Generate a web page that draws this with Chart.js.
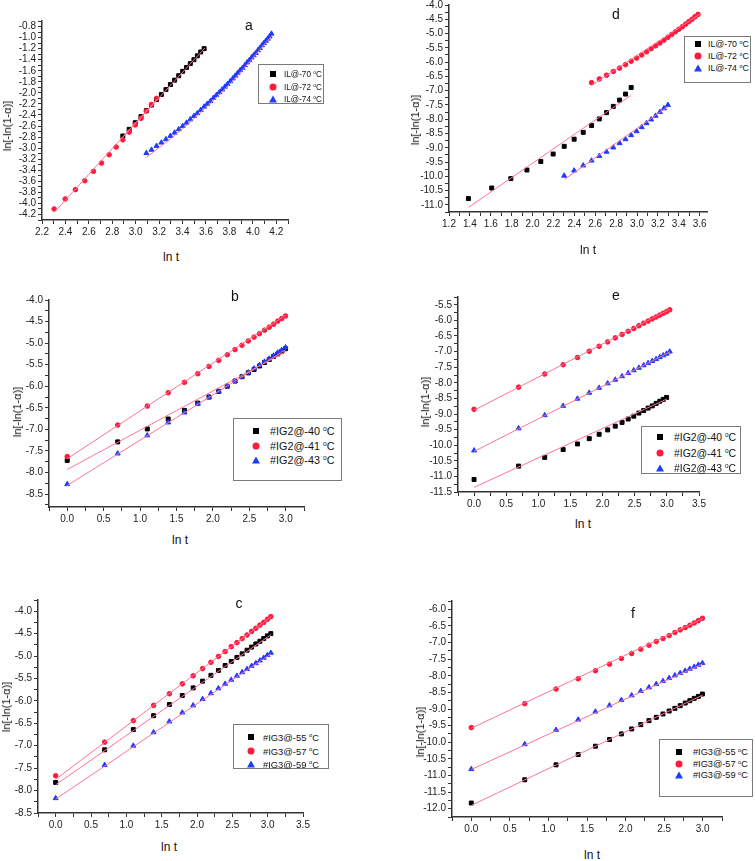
<!DOCTYPE html>
<html>
<head>
<meta charset="utf-8">
<script src="https://cdn.jsdelivr.net/npm/chart.js@4.4.0/dist/chart.umd.min.js"></script>
<style>
  body { margin: 0; background: #fff; width: 756px; height: 861px; position: relative; overflow: hidden;
         font-family: "Liberation Sans", Arial, sans-serif; color: #111; }
  canvas { position: absolute; }
  .lbl { position: absolute; transform: translate(-50%, -50%); white-space: nowrap; }
  .ytitle { position: absolute; transform: translate(-50%, -50%) rotate(-90deg); font-size: 11px; white-space: nowrap; }
  .legend { position: absolute; border: 1px solid #7a7a7a; background: #fff; box-sizing: border-box; }
  .legend .row { position: absolute; white-space: nowrap; transform: translateY(-50%); }
  .legend .sym { position: absolute; transform: translate(-50%, -50%); }
  sup { font-size: 0.62em; vertical-align: 0.55em; }
</style>
</head>
<body>
<script>
// ln t for t = 1..21
const lnT20 = [0, 0.693, 1.099, 1.386, 1.609, 1.792, 1.946, 2.079, 2.197, 2.303, 2.398, 2.485, 2.565, 2.639, 2.708, 2.773, 2.833, 2.890, 2.944, 2.996];
const lnT21 = [0, 0.693, 1.099, 1.386, 1.609, 1.792, 1.946, 2.079, 2.197, 2.303, 2.398, 2.485, 2.565, 2.639, 2.708, 2.773, 2.833, 2.890, 2.944, 2.996, 3.045];

// panel a
const aX70 = [2.890, 2.944, 2.996, 3.045, 3.091, 3.135, 3.178, 3.219, 3.258, 3.296, 3.332, 3.367, 3.401, 3.434, 3.466, 3.497, 3.526, 3.555, 3.584];
const aY70 = [-2.78, -2.66, -2.54, -2.43, -2.32, -2.22, -2.12, -2.03, -1.94, -1.85, -1.77, -1.69, -1.61, -1.54, -1.47, -1.40, -1.33, -1.26, -1.20];
const aX72 = [2.303, 2.398, 2.485, 2.565, 2.639, 2.708, 2.773, 2.833, 2.890, 2.944, 2.996, 3.045, 3.091, 3.135, 3.178];
const aY72 = [-4.10, -3.92, -3.75, -3.59, -3.42, -3.27, -3.12, -2.98, -2.85, -2.71, -2.58, -2.46, -2.33, -2.21, -2.10];
const aX74 = [3.091, 3.135, 3.178, 3.219, 3.258, 3.296, 3.332, 3.367, 3.401, 3.434, 3.466, 3.497, 3.526, 3.555, 3.584,
              3.611, 3.638, 3.664, 3.689, 3.714, 3.738, 3.761, 3.784, 3.807, 3.829, 3.850, 3.871, 3.892, 3.912, 3.932,
              3.951, 3.970, 3.989, 4.007, 4.025, 4.043, 4.060, 4.078, 4.094, 4.111, 4.127, 4.143, 4.159];
const aY74 = [-3.09, -3.03, -2.96, -2.90, -2.84, -2.78, -2.72, -2.66, -2.60, -2.54, -2.48, -2.42, -2.37, -2.31, -2.25,
              -2.20, -2.15, -2.09, -2.04, -1.99, -1.94, -1.89, -1.84, -1.79, -1.74, -1.69, -1.64, -1.59, -1.55, -1.50,
              -1.45, -1.41, -1.36, -1.32, -1.28, -1.23, -1.19, -1.14, -1.10, -1.06, -1.02, -0.98, -0.93];
const aFit70X = [2.89, 3.59], aFit70Y = [-2.80, -1.19];
const aFit72X = [2.31, 3.18], aFit72Y = [-4.15, -2.12];
const aFit74X = [3.09, 3.40, 3.80, 4.16], aFit74Y = [-3.17, -2.65, -1.85, -0.97];

// panel d
const dX70 = [1.386, 1.609, 1.792, 1.946, 2.079, 2.197, 2.303, 2.398, 2.485, 2.565, 2.639, 2.708, 2.773, 2.833, 2.890, 2.944];
const dY70 = [-10.78, -10.41, -10.08, -9.78, -9.48, -9.22, -8.95, -8.70, -8.46, -8.22, -7.99, -7.77, -7.55, -7.33, -7.12, -6.89];
const dX72 = [2.565, 2.639, 2.708, 2.773, 2.833, 2.890, 2.944, 2.996, 3.045, 3.091, 3.135, 3.178, 3.219, 3.258, 3.296, 3.332,
              3.367, 3.401, 3.434, 3.466, 3.497, 3.526, 3.555, 3.584];
const dY72 = [-6.72, -6.59, -6.46, -6.33, -6.21, -6.09, -5.97, -5.86, -5.75, -5.64, -5.53, -5.43, -5.33, -5.23, -5.13, -5.03,
              -4.94, -4.85, -4.76, -4.67, -4.58, -4.50, -4.41, -4.33];
const dX74 = [2.303, 2.398, 2.485, 2.565, 2.639, 2.708, 2.773, 2.833, 2.890, 2.944, 2.996, 3.045, 3.091, 3.135, 3.178, 3.219, 3.258, 3.296];
const dY74 = [-9.98, -9.80, -9.62, -9.45, -9.29, -9.14, -8.99, -8.84, -8.70, -8.56, -8.42, -8.28, -8.14, -8.01, -7.88, -7.75, -7.62, -7.50];
const dFit70X = [1.39, 2.94], dFit70Y = [-11.08, -7.17];
const dFit72X = [2.57, 3.61], dFit72Y = [-6.80, -4.30];
const dFit74X = [2.31, 3.30], dFit74Y = [-10.10, -7.55];

// panel b
const bY40 = [-7.72, -7.29, -6.99, -6.76, -6.56, -6.39, -6.25, -6.12, -6.00, -5.88, -5.78, -5.69, -5.61, -5.53, -5.45, -5.38, -5.31, -5.25, -5.19, -5.13];
const bY41 = [-7.63, -6.90, -6.46, -6.15, -5.91, -5.71, -5.54, -5.40, -5.27, -5.15, -5.05, -4.95, -4.86, -4.78, -4.70, -4.63, -4.56, -4.49, -4.43, -4.37];
const bY43 = [-8.27, -7.56, -7.14, -6.84, -6.61, -6.41, -6.26, -6.12, -5.99, -5.88, -5.78, -5.68, -5.59, -5.51, -5.43, -5.36, -5.29, -5.22, -5.16, -5.10];
const bFit40X = [0, 3.0], bFit40Y = [-7.93, -5.20];
const bFit41X = [0, 3.0], bFit41Y = [-7.68, -4.35];
const bFit43X = [0, 3.0], bFit43Y = [-8.30, -5.15];

// panel e
const eY40 = [-11.10, -10.67, -10.39, -10.14, -9.96, -9.79, -9.65, -9.51, -9.39, -9.27, -9.16, -9.07, -8.97, -8.89, -8.81, -8.74, -8.66, -8.59, -8.53, -8.47];
const eY41 = [-8.85, -8.14, -7.72, -7.42, -7.19, -6.99, -6.83, -6.69, -6.56, -6.45, -6.35, -6.26, -6.17, -6.09, -6.02, -5.95, -5.89, -5.83, -5.77, -5.72, -5.66];
const eY43 = [-10.17, -9.46, -9.04, -8.74, -8.51, -8.32, -8.16, -8.02, -7.90, -7.79, -7.69, -7.60, -7.52, -7.44, -7.37, -7.30, -7.24, -7.18, -7.12, -7.07, -7.00];
const eFit40X = [0, 3.0], eFit40Y = [-11.35, -8.52];
const eFit41X = [0, 3.05], eFit41Y = [-8.88, -5.64];
const eFit43X = [0, 3.05], eFit43Y = [-10.20, -7.01];

// panel c
const cY55 = [-7.82, -7.09, -6.64, -6.33, -6.08, -5.88, -5.71, -5.56, -5.43, -5.32, -5.21, -5.12, -5.03, -4.95, -4.87, -4.80, -4.73, -4.67, -4.61, -4.55, -4.50];
const cY57 = [-7.67, -6.92, -6.44, -6.10, -5.84, -5.62, -5.44, -5.28, -5.14, -5.01, -4.90, -4.79, -4.70, -4.61, -4.53, -4.45, -4.38, -4.31, -4.25, -4.18, -4.12];
const cY59 = [-8.17, -7.43, -7.00, -6.70, -6.46, -6.26, -6.10, -5.96, -5.83, -5.72, -5.62, -5.53, -5.44, -5.36, -5.29, -5.22, -5.16, -5.10, -5.04, -4.98, -4.93];
const cFit55X = [0, 3.05], cFit55Y = [-7.87, -4.52];
const cFit57X = [0, 3.05], cFit57Y = [-7.75, -4.12];
const cFit59X = [0, 3.05], cFit59Y = [-8.19, -4.95];

// panel f
const fY55 = [-11.83, -11.13, -10.68, -10.37, -10.12, -9.92, -9.75, -9.60, -9.47, -9.35, -9.25, -9.15, -9.06, -8.98, -8.90, -8.82, -8.75, -8.68, -8.62, -8.55];
const fY57 = [-9.56, -8.84, -8.40, -8.09, -7.85, -7.65, -7.48, -7.33, -7.20, -7.08, -6.97, -6.88, -6.79, -6.70, -6.62, -6.55, -6.48, -6.41, -6.34, -6.27];
const fY59 = [-10.81, -10.06, -9.63, -9.32, -9.08, -8.89, -8.73, -8.59, -8.46, -8.35, -8.25, -8.16, -8.07, -7.99, -7.92, -7.85, -7.79, -7.73, -7.67, -7.62];
const fFit55X = [0, 3.0], fFit55Y = [-11.90, -8.58];
const fFit57X = [0, 3.0], fFit57Y = [-9.58, -6.28];
const fFit59X = [0, 3.0], fFit59Y = [-10.82, -7.64];

// legend names
const namesIL = ['IL@-70', 'IL@-72', 'IL@-74'];
const namesIG2 = ['#IG2@-40', '#IG2@-41', '#IG2@-43'];
const namesIG3 = ['#IG3@-55', '#IG3@-57', '#IG3@-59'];

const COLORS = { black: '#000000', red: '#ff1a3c', blue: '#1e3cff' };
const STY = {
  black: { pointStyle: 'rect', pointRadius: 2.8 },
  red: { pointStyle: 'circle', pointRadius: 2.3 },
  blue: { pointStyle: 'triangle', pointRadius: 2.9 }
};
const FIT_COLOR = '#ff7393';

function pts(xs, ys) {
  return xs.map((x, i) => ({ x: x, y: ys[i] }));
}

function axisOpts(min, max, step, major, size, isY) {
  return {
    type: 'linear', min: min, max: max,
    grid: { display: true, drawOnChartArea: false, drawTicks: true, tickLength: 4, color: '#333', lineWidth: 1 },
    border: { display: true, color: '#333', width: 1.5 },
    ticks: {
      stepSize: step, includeBounds: false, autoSkip: false, maxRotation: 0, padding: 2,
      color: '#222', font: { family: 'Liberation Sans', size: 10 },
      callback: v => Math.abs(v / major - Math.round(v / major)) < 1e-6 ? v.toFixed(1) : ''
    },
    afterFit: s => { if (isY) s.width = size; else s.height = size; }
  };
}

function makePanel(p) {
  const yW = 40, padT = 12, padR = 22, xH = 24;
  const c = document.createElement('canvas');
  c.width = p.R - p.L + yW + padR;
  c.height = p.B - p.T + padT + xH;
  c.style.left = (p.L - yW) + 'px';
  c.style.top = (p.T - padT) + 'px';
  document.body.appendChild(c);

  const datasets = [];
  p.fits.forEach(f => datasets.push({
    type: 'line', data: pts(f[0], f[1]), borderColor: FIT_COLOR, borderWidth: 1,
    pointRadius: 0, fill: false, tension: 0.3, order: 0
  }));
  p.series.forEach((s, i) => {
    const col = COLORS[s.c];
    datasets.push({
      type: 'scatter', data: pts(s.x, s.y), pointStyle: STY[s.c].pointStyle, pointRadius: STY[s.c].pointRadius,
      backgroundColor: col, borderColor: col, borderWidth: 1, order: 3 - i
    });
  });

  new Chart(c, {
    type: 'scatter',
    data: { datasets: datasets },
    options: {
      responsive: false, animation: false, devicePixelRatio: 1,
      layout: { padding: { top: padT, right: padR, left: 0, bottom: 0 } },
      plugins: { legend: { display: false }, tooltip: { enabled: false } },
      scales: {
        x: axisOpts(p.xr[0], p.xr[1], p.xr[2], p.xr[3], xH, false),
        y: axisOpts(p.yr[0], p.yr[1], p.yr[2], p.yr[3], yW, true)
      }
    }
  });
}

function addText(cls, x, y, html, size) {
  const d = document.createElement('div');
  d.className = cls;
  d.style.left = x + 'px';
  d.style.top = y + 'px';
  if (size) d.style.fontSize = size + 'px';
  d.innerHTML = html;
  document.body.appendChild(d);
}

function symbol(kind) {
  const s = document.createElement('div');
  s.className = 'sym';
  if (kind === 'black') {
    s.style.cssText += 'width:6px;height:6px;background:' + COLORS.black;
  } else if (kind === 'red') {
    s.style.cssText += 'width:7px;height:7px;border-radius:50%;background:' + COLORS.red;
  } else {
    s.style.cssText += 'width:0;height:0;border-left:4px solid transparent;border-right:4px solid transparent;border-bottom:7px solid ' + COLORS.blue;
  }
  return s;
}

function addLegend(lg, names) {
  const box = document.createElement('div');
  box.className = 'legend';
  box.style.left = lg.box[0] + 'px';
  box.style.top = lg.box[1] + 'px';
  box.style.width = (lg.box[2] - lg.box[0]) + 'px';
  box.style.height = (lg.box[3] - lg.box[1]) + 'px';
  ['black', 'red', 'blue'].forEach((k, i) => {
    const sy = symbol(k);
    sy.style.left = (lg.symX - lg.box[0]) + 'px';
    sy.style.top = (lg.rows[i] - lg.box[1]) + 'px';
    box.appendChild(sy);
    const r = document.createElement('div');
    r.className = 'row';
    r.style.left = (lg.txtX - lg.box[0]) + 'px';
    r.style.top = (lg.rows[i] - lg.box[1]) + 'px';
    r.style.fontSize = lg.fs + 'px';
    r.innerHTML = names[i] + ' <sup>o</sup>C';
    box.appendChild(r);
  });
  document.body.appendChild(box);
}

const YT = 'ln[-ln(1-&alpha;)]';

const panels = [
  { L: 42, T: 21, R: 288, B: 220, xr: [2.2, 4.3, 0.1, 0.2], yr: [-4.3, -0.7, 0.1, 0.2],
    series: [{ c: 'black', x: aX70, y: aY70 }, { c: 'red', x: aX72, y: aY72 }, { c: 'blue', x: aX74, y: aY74 }],
    fits: [[aFit70X, aFit70Y], [aFit72X, aFit72Y], [aFit74X, aFit74Y]],
    letter: ['a', 249, 25], xt: [171, 257], yt: [7, 126],
    legend: { box: [258, 64, 324, 104], symX: 272, txtX: 283, rows: [73, 86, 98], fs: 8.2 }, names: namesIL },
  { L: 449, T: 5, R: 707, B: 212, xr: [1.2, 3.67, 0.1, 0.2], yr: [-11.25, -4.0, 0.25, 0.5],
    series: [{ c: 'black', x: dX70, y: dY70 }, { c: 'red', x: dX72, y: dY72 }, { c: 'blue', x: dX74, y: dY74 }],
    fits: [[dFit70X, dFit70Y], [dFit72X, dFit72Y], [dFit74X, dFit74Y]],
    letter: ['d', 616, 14], xt: [588, 250], yt: [415, 120],
    legend: { box: [684, 36, 751, 83], symX: 697, txtX: 707, rows: [43, 55, 67], fs: 8.8 }, names: namesIL },
  { L: 49, T: 300, R: 304, B: 507, xr: [-0.25, 3.25, 0.25, 0.5], yr: [-8.8, -4.0, 0.25, 0.5],
    series: [{ c: 'black', x: lnT20, y: bY40 }, { c: 'red', x: lnT20, y: bY41 }, { c: 'blue', x: lnT20, y: bY43 }],
    fits: [[bFit40X, bFit40Y], [bFit41X, bFit41Y], [bFit43X, bFit43Y]],
    letter: ['b', 235, 296], xt: [180, 540], yt: [17, 412],
    legend: { box: [233, 418, 342, 481], symX: 255, txtX: 269, rows: [430, 445, 459], fs: 10.8 }, names: namesIG2 },
  { L: 458, T: 297, R: 699, B: 492, xr: [-0.25, 3.5, 0.25, 0.5], yr: [-11.5, -5.25, 0.25, 0.5],
    series: [{ c: 'black', x: lnT20, y: eY40 }, { c: 'red', x: lnT21, y: eY41 }, { c: 'blue', x: lnT21, y: eY43 }],
    fits: [[eFit40X, eFit40Y], [eFit41X, eFit41Y], [eFit43X, eFit43Y]],
    letter: ['e', 616, 295], xt: [583, 524], yt: [425, 402],
    legend: { box: [641, 426, 741, 474], symX: 659, txtX: 673, rows: [436, 452, 467], fs: 10.4 }, names: namesIG2 },
  { L: 38, T: 600, R: 303, B: 813, xr: [-0.25, 3.5, 0.25, 0.5], yr: [-8.5, -3.75, 0.25, 0.5],
    series: [{ c: 'black', x: lnT21, y: cY55 }, { c: 'red', x: lnT21, y: cY57 }, { c: 'blue', x: lnT21, y: cY59 }],
    fits: [[cFit55X, cFit55Y], [cFit57X, cFit57Y], [cFit59X, cFit59Y]],
    letter: ['c', 239, 603], xt: [169, 847], yt: [6, 707],
    legend: { box: [233, 724, 329, 769], symX: 250, txtX: 262, rows: [736, 750, 763], fs: 9.4 }, names: namesIG3 },
  { L: 452, T: 601, R: 722, B: 817, xr: [-0.25, 3.25, 0.25, 0.5], yr: [-12.25, -5.75, 0.25, 0.5],
    series: [{ c: 'black', x: lnT20, y: fY55 }, { c: 'red', x: lnT20, y: fY57 }, { c: 'blue', x: lnT20, y: fY59 }],
    fits: [[fFit55X, fFit55Y], [fFit57X, fFit57Y], [fFit59X, fFit59Y]],
    letter: ['f', 633, 613], xt: [592, 855], yt: [420, 732],
    legend: { box: [659, 739, 753, 797], symX: 678, txtX: 692, rows: [751, 763, 774], fs: 9.2 }, names: namesIG3 }
];

panels.forEach(p => {
  makePanel(p);
  addText('lbl', p.letter[1], p.letter[2], p.letter[0], 14);
  addText('lbl', p.xt[0], p.xt[1], 'ln t', 12);
  addText('ytitle', p.yt[0], p.yt[1], YT);
  addLegend(p.legend, p.names);
});
</script>
</body>
</html>
